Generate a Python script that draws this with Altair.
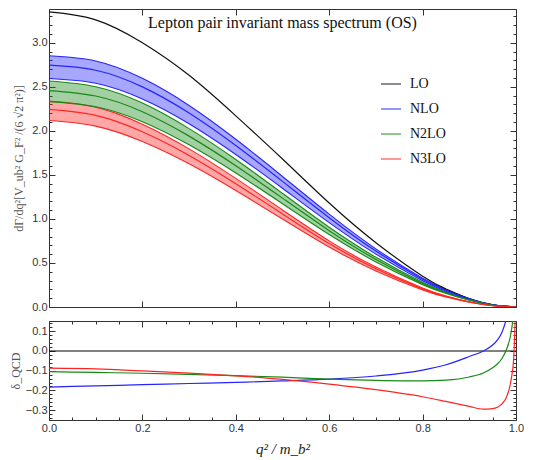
import altair as alt
import pandas as pd

# ---------------- values ----------------
q = [0.0, 0.1, 0.2, 0.3, 0.4, 0.5, 0.6, 0.7, 0.8, 0.85, 0.9, 0.95, 1.0]
lo = [3.35, 3.26, 3.00, 2.63, 2.17, 1.68, 1.18, 0.73, 0.35, 0.205, 0.094, 0.024, 0.0]

nlo = [2.745, 2.688, 2.499, 2.202, 1.833, 1.426, 1.014, 0.635, 0.316, 0.190, 0.092, 0.025, 0.0]
nlo_up = [2.852, 2.793, 2.596, 2.288, 1.904, 1.482, 1.054, 0.660, 0.328, 0.197, 0.096, 0.026, 0.0]
nlo_dn = [2.594, 2.540, 2.362, 2.081, 1.732, 1.348, 0.958, 0.600, 0.299, 0.180, 0.087, 0.024, 0.0]

n2lo = [2.457, 2.395, 2.217, 1.940, 1.604, 1.236, 0.867, 0.540, 0.268, 0.162, 0.080, 0.023, 0.0]
n2lo_up = [2.565, 2.500, 2.315, 2.025, 1.675, 1.290, 0.905, 0.564, 0.280, 0.169, 0.084, 0.024, 0.0]
n2lo_dn = [2.332, 2.273, 2.104, 1.841, 1.522, 1.173, 0.823, 0.512, 0.254, 0.154, 0.076, 0.022, 0.0]

n3lo = [2.243, 2.175, 1.989, 1.721, 1.400, 1.057, 0.720, 0.434, 0.206, 0.120, 0.057, 0.016, 0.0]
n3lo_up = [2.339, 2.269, 2.075, 1.795, 1.460, 1.102, 0.751, 0.453, 0.215, 0.125, 0.059, 0.017, 0.0]
n3lo_dn = [2.117, 2.053, 1.878, 1.625, 1.322, 0.998, 0.680, 0.410, 0.194, 0.113, 0.054, 0.015, 0.0]

qd = [0.0, 0.1, 0.2, 0.3, 0.4, 0.5, 0.6, 0.7, 0.8, 0.85, 0.9, 0.93, 0.95, 0.96, 0.97, 0.98, 0.99, 0.995, 1.0]
delta_nlo = [-0.183, -0.177, -0.171, -0.165, -0.159, -0.152, -0.143, -0.127, -0.097, -0.070, -0.028,
             0.000, 0.030, 0.055, 0.095, 0.170, 0.300, 0.450, 0.700]
delta_n2lo = [-0.105, -0.109, -0.113, -0.119, -0.125, -0.133, -0.143, -0.149, -0.152, -0.148, -0.132,
              -0.112, -0.085, -0.066, -0.038, 0.010, 0.100, 0.200, 0.400]
delta_n3lo = [-0.087, -0.091, -0.101, -0.112, -0.126, -0.144, -0.168, -0.196, -0.232, -0.256, -0.281,
              -0.295, -0.292, -0.285, -0.268, -0.232, -0.140, -0.040, 0.300]

orders = ["LO", "NLO", "N2LO", "N3LO"]
colors = ["#111111", "#2424ff", "#178a17", "#ff2424"]

title_text = "Lepton pair invariant mass spectrum (OS)"
ytitle_top = "dΓ/dq²[V_ub² G_F² /(6 √2 π²)]"
ytitle_bot = "δ_QCD"
xtitle = "q² / m_b²"

x_major = [0.0, 0.2, 0.4, 0.6, 0.8, 1.0]
x_minor = [0.05, 0.1, 0.15, 0.25, 0.3, 0.35, 0.45, 0.5, 0.55, 0.65, 0.7, 0.75, 0.85, 0.9, 0.95]
y1_major = [0.0, 0.5, 1.0, 1.5, 2.0, 2.5, 3.0]
y1_minor = [0.1, 0.2, 0.3, 0.4, 0.6, 0.7, 0.8, 0.9, 1.1, 1.2, 1.3, 1.4, 1.6, 1.7, 1.8, 1.9,
            2.1, 2.2, 2.3, 2.4, 2.6, 2.7, 2.8, 2.9, 3.1, 3.2, 3.3]
y2_major = [-0.3, -0.2, -0.1, 0.0, 0.1]
y2_minor = [-0.34, -0.32, -0.28, -0.26, -0.24, -0.22, -0.18, -0.16, -0.14, -0.12,
            -0.08, -0.06, -0.04, -0.02, 0.02, 0.04, 0.06, 0.08, 0.12, 0.14]

# ---------------- tables ----------------
band_rows = []
for name, c, up, dn in [("NLO", nlo, nlo_up, nlo_dn), ("N2LO", n2lo, n2lo_up, n2lo_dn),
                        ("N3LO", n3lo, n3lo_up, n3lo_dn)]:
    for i in range(len(q)):
        band_rows.append({"q": q[i], "order": name, "c": c[i], "up": up[i], "dn": dn[i]})
bands = pd.DataFrame(band_rows)

center_rows = []
for name, c in [("LO", lo), ("NLO", nlo), ("N2LO", n2lo), ("N3LO", n3lo)]:
    for i in range(len(q)):
        center_rows.append({"q": q[i], "order": name, "v": c[i]})
centers = pd.DataFrame(center_rows)

delta_rows = []
for name, d in [("NLO", delta_nlo), ("N2LO", delta_n2lo), ("N3LO", delta_n3lo)]:
    for i in range(len(qd)):
        delta_rows.append({"q": qd[i], "order": name, "d": d[i]})
deltas = pd.DataFrame(delta_rows)

carrier = pd.DataFrame({"q": [0.0], "v": [0.0]})
zero = pd.DataFrame({"z": [0.0]})
title_df = pd.DataFrame({"t": [title_text]})

# ---------------- helpers ----------------
W = 467
H1 = 298
H2 = 99
xs = alt.Scale(domain=[0, 1], nice=False, zero=False)
ys1 = alt.Scale(domain=[0, 3.383], nice=False, zero=False)
ys2 = alt.Scale(domain=[-0.35, 0.152], nice=False, zero=False)


def cscale():
    return alt.Scale(domain=orders, range=colors)


def axis(orient, values, size, labels=False, title=None, **kw):
    return alt.Axis(orient=orient, values=values, tickSize=size, offset=-size,
                    labels=labels, domain=False, grid=False, ticks=True, title=title,
                    tickColor="#333", tickWidth=1, minExtent=0,
                    labelFont="Liberation Sans", labelFontSize=11, labelColor="#333",
                    labelPadding=2, labelFlush=False, labelOverlap=False,
                    format=".1f", **kw)


def carrier_layer(xaxis, yaxis, yscale):
    return alt.Chart(carrier).mark_point(opacity=0).encode(
        x=alt.X("q:Q", scale=xs, axis=xaxis),
        y=alt.Y("v:Q", scale=yscale, axis=yaxis),
    )


# ---------------- top panel ----------------
areas = alt.Chart(bands).mark_area(opacity=0.4, interpolate="natural", clip=True).encode(
    x=alt.X("q:Q", scale=xs, axis=None),
    y=alt.Y("dn:Q", scale=ys1, axis=None),
    y2="up:Q",
    color=alt.Color("order:N", scale=cscale(), legend=None),
)
edge_up = alt.Chart(bands).mark_line(interpolate="natural", strokeWidth=1.1, clip=True).encode(
    x=alt.X("q:Q", scale=xs, axis=None),
    y=alt.Y("up:Q", scale=ys1, axis=None),
    color=alt.Color("order:N", scale=cscale(), legend=None),
)
edge_dn = alt.Chart(bands).mark_line(interpolate="natural", strokeWidth=1.1, clip=True).encode(
    x=alt.X("q:Q", scale=xs, axis=None),
    y=alt.Y("dn:Q", scale=ys1, axis=None),
    color=alt.Color("order:N", scale=cscale(), legend=None),
)
center_lines = alt.Chart(centers).mark_line(interpolate="natural", strokeWidth=1.2, clip=True).encode(
    x=alt.X("q:Q", scale=xs, axis=None),
    y=alt.Y("v:Q", scale=ys1, axis=None),
    color=alt.Color("order:N", scale=cscale(), sort=orders,
                    legend=alt.Legend(orient="none", legendX=331, legendY=64, title=None,
                                      symbolType="stroke", symbolSize=400,
                                      symbolStrokeWidth=1.6, symbolOpacity=0.6,
                                      labelFont="Liberation Serif", labelFontSize=14,
                                      labelColor="#111", labelOffset=8, rowPadding=7,
                                      padding=0)),
)
title_mark = alt.Chart(title_df).mark_text(font="Liberation Serif", fontSize=16, color="#111",
                                          baseline="alphabetic", align="center").encode(
    text="t:N", x=alt.value(W / 2), y=alt.value(18.5))

top_c1 = carrier_layer(axis("bottom", x_major, 6),
                       axis("left", y1_major, 6, labels=True, title=ytitle_top,
                            titleFont="Liberation Serif", titleFontSize=12,
                            titleFontWeight="normal", titleColor="#555", titlePadding=6),
                       ys1)
top_c2 = carrier_layer(axis("top", x_major, 6), axis("right", y1_major, 6), ys1)
top_c3 = carrier_layer(None, axis("left", y1_minor, 3), ys1)
top_c4 = carrier_layer(None, axis("right", y1_minor, 3), ys1)

top = alt.layer(areas, edge_up, edge_dn, center_lines, title_mark,
                top_c1, top_c2, top_c3, top_c4).resolve_axis(
    x="independent", y="independent").resolve_scale(color="independent").properties(
    width=W, height=H1)

# ---------------- bottom panel ----------------
zero_rule = alt.Chart(zero).mark_rule(color="#000000", strokeWidth=1.1).encode(
    y=alt.Y("z:Q", scale=ys2, axis=None))
delta_lines = alt.Chart(deltas).mark_line(interpolate="monotone", strokeWidth=1.2, clip=True).encode(
    x=alt.X("q:Q", scale=xs, axis=None),
    y=alt.Y("d:Q", scale=ys2, axis=None),
    color=alt.Color("order:N", scale=cscale(), legend=None),
)
bot_c1 = carrier_layer(axis("bottom", x_major, 6, labels=True, title=xtitle,
                            titleFont="Liberation Serif", titleFontSize=15, titleFontStyle="italic",
                            titleFontWeight="normal", titleColor="#222", titlePadding=8),
                       axis("left", y2_major, 6, labels=True, title=ytitle_bot,
                            titleFont="Liberation Serif", titleFontSize=12,
                            titleFontWeight="normal", titleColor="#555", titlePadding=3),
                       ys2)
bot_c2 = carrier_layer(axis("top", x_major, 6), axis("right", y2_major, 6), ys2)
bot_c3 = carrier_layer(axis("bottom", x_minor, 3), axis("left", y2_minor, 3), ys2)
bot_c4 = carrier_layer(axis("top", x_minor, 3), axis("right", y2_minor, 3), ys2)

bottom = alt.layer(zero_rule, delta_lines, bot_c1, bot_c2, bot_c3, bot_c4).resolve_axis(
    x="independent", y="independent").properties(width=W, height=H2)

chart = alt.vconcat(top, bottom, spacing=7).resolve_scale(color="independent").properties(
    padding={"left": 0, "top": 0, "right": 0, "bottom": 0}
).configure_view(stroke="#333", strokeWidth=1)

chart.save("out.html", embed_options={"renderer": "svg", "actions": False})
